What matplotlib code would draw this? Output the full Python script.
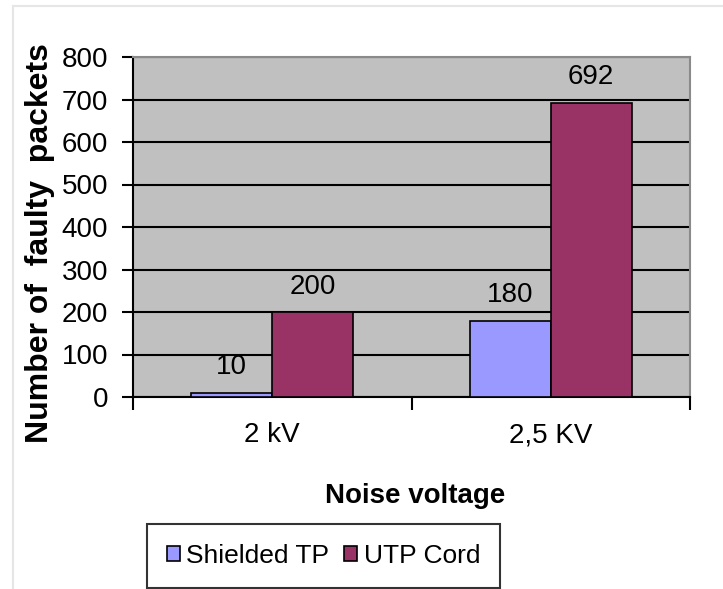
import numpy as np
import matplotlib
matplotlib.use('Agg')
import matplotlib.pyplot as plt
from matplotlib.lines import Line2D

plt.rcParams['font.family'] = ['Liberation Sans', 'DejaVu Sans']

categories = ['2 kV', '2,5 KV']
series_names = ['Shielded TP', 'UTP Cord']
shielded = [10, 180]
utp = [200, 692]
yticks = [0, 100, 200, 300, 400, 500, 600, 700, 800]

colors = ['#9999FF', '#993366']
fs = 20

fig = plt.figure(figsize=(7.23, 5.89), dpi=100)
ax = fig.add_axes([133 / 723, 1 - 397 / 589, (690 - 133) / 723, (397 - 57) / 589])
ax.set_facecolor('#C0C0C0')

x = np.arange(len(categories))
w = 0.29
b1 = ax.bar(x - w / 2, shielded, w, color=colors[0], edgecolor='black', linewidth=1.2,
            label=series_names[0], zorder=3)
b2 = ax.bar(x + w / 2, utp, w, color=colors[1], edgecolor='black', linewidth=1.2,
            label=series_names[1], zorder=3)

for bars in (b1, b2):
    ax.bar_label(bars, padding=9, fontsize=fs)

ax.set_xlim(-0.5, 1.5)
ax.set_ylim(0, 800)
ax.set_yticks(yticks)
ax.tick_params(axis='y', labelsize=fs, length=8, width=1.5, direction='out', pad=10)
ax.yaxis.grid(True, color='black', linewidth=1.5, zorder=1)
ax.set_axisbelow(True)

# category ticks sit between groups, labels at group centres
ax.set_xticks([-0.5, 0.5, 1.5])
ax.set_xticklabels([])
ax.set_xticks(x, minor=True)
ax.set_xticklabels(categories, minor=True, fontsize=fs)
ax.tick_params(axis='x', which='major', length=9, width=1.5, direction='out')
ax.tick_params(axis='x', which='minor', length=0, pad=18)

for s in ('top', 'right'):
    ax.spines[s].set_color('#8a8a8a')
    ax.spines[s].set_linewidth(1.5)
for s in ('left', 'bottom'):
    ax.spines[s].set_color('black')
    ax.spines[s].set_linewidth(1.5)

fig.text(415 / 723, 1 - 503 / 589, 'Noise voltage', ha='center', va='baseline',
         fontsize=20, fontweight='bold')
fig.text(48 / 723, 1 - 243.5 / 589, 'Number of  faulty  packets', ha='center', va='baseline',
         rotation=90, rotation_mode='anchor', fontsize=23, fontweight='bold')

# light frame on left and top of the figure
fig.add_artist(Line2D([13 / 723, 13 / 723], [0, 1 - 6 / 589], transform=fig.transFigure,
                      color='#e6e6e6', linewidth=1.5))
fig.add_artist(Line2D([13 / 723, 1], [1 - 6 / 589, 1 - 6 / 589], transform=fig.transFigure,
                      color='#e6e6e6', linewidth=1.5))

leg = fig.legend(handles=[b1, b2], loc='center', bbox_to_anchor=(323.5 / 723, 1 - 556 / 589),
                 ncol=2, fontsize=19, frameon=True, fancybox=False, edgecolor='black',
                 handlelength=0.5, handleheight=0.5, handletextpad=0.25, columnspacing=0.55,
                 borderpad=0.75, borderaxespad=0)
leg.get_frame().set_linewidth(1.5)

fig.savefig('out.png', dpi=100)
